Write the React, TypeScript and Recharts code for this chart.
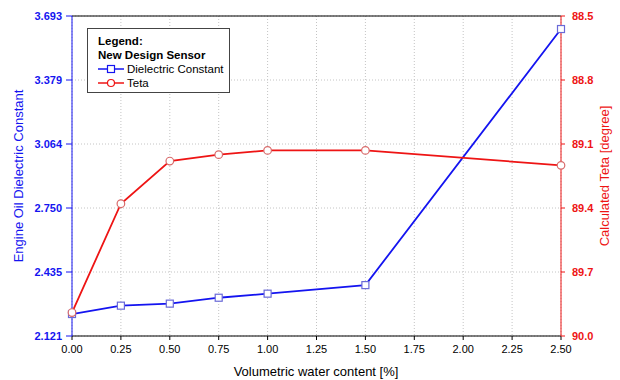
import { CartesianGrid, Legend, Line, LineChart, ReferenceLine, XAxis, YAxis } from "recharts";

const waterContent = [0, 0.25, 0.5, 0.75, 1.0, 1.5, 2.5];
const dielectric = [2.229, 2.27, 2.28, 2.309, 2.329, 2.371, 3.629];
const teta = [89.89, 89.38, 89.18, 89.15, 89.13, 89.13, 89.2];

const xTicks = [0, 0.25, 0.5, 0.75, 1.0, 1.25, 1.5, 1.75, 2.0, 2.25, 2.5];
const leftTicks = [2.121, 2.4354, 2.7498, 3.0642, 3.3786, 3.693];
const rightTicks = [88.5, 88.8, 89.1, 89.4, 89.7, 90.0];

const BLUE = "#1414f0";
const RED = "#ee1414";
const FONT = "'Liberation Sans', Arial, sans-serif";

const data = waterContent.map((x, i) => ({ x, dielectric: dielectric[i], teta: teta[i] }));

const Square = (props: any) => {
  const { cx, cy } = props;
  if (cx == null || cy == null) return null;
  return <rect x={cx - 3.5} y={cy - 3.5} width={7} height={7} fill="#fff" stroke="#6a6ad8" strokeWidth={1.2} />;
};

const Circle = (props: any) => {
  const { cx, cy } = props;
  if (cx == null || cy == null) return null;
  return <circle cx={cx} cy={cy} r={3.8} fill="#fff" stroke="#d86a6a" strokeWidth={1.2} />;
};

function LegendBox() {
  const row = { display: "flex", alignItems: "center", height: 14 } as const;
  return (
    <div style={{ border: "1px solid #444", background: "#fff", padding: "5px 5px 2px 10px", fontFamily: FONT, fontSize: 11.5, color: "#000", lineHeight: "14px", whiteSpace: "nowrap" }}>
      <div style={{ fontWeight: "bold" }}>Legend:</div>
      <div style={{ fontWeight: "bold" }}>New Design Sensor</div>
      <div style={row}>
        <svg width={26} height={10} style={{ marginRight: 3 }}>
          <line x1={0} y1={5} x2={26} y2={5} stroke={BLUE} strokeWidth={1.5} />
          <rect x={9.5} y={1.5} width={7} height={7} fill="#fff" stroke={BLUE} strokeWidth={1.2} />
        </svg>
        Dielectric Constant
      </div>
      <div style={row}>
        <svg width={26} height={10} style={{ marginRight: 3 }}>
          <line x1={0} y1={5} x2={26} y2={5} stroke={RED} strokeWidth={1.5} />
          <circle cx={13} cy={5} r={3.5} fill="#fff" stroke={RED} strokeWidth={1.2} />
        </svg>
        Teta
      </div>
    </div>
  );
}

const title = (value: string, x: number, y: number, angle: number, fill: string) => () => (
  <text x={x} y={y} transform={`rotate(${angle}, ${x}, ${y})`} textAnchor="middle" dominantBaseline="central" fill={fill} fontSize={13} fontFamily={FONT}>
    {value}
  </text>
);

export default function App() {
  return (
    <div style={{ position: "absolute", left: 0, top: 0, background: "#fff" }}>
      <LineChart width={620} height={380} data={data} margin={{ top: 16, right: 10, bottom: 10, left: 10 }} style={{ fontFamily: FONT }}>
        <CartesianGrid yAxisId="left" stroke="#c4c4c4" strokeDasharray="1 2" />
        <XAxis
          dataKey="x"
          type="number"
          domain={[0, 2.5]}
          ticks={xTicks}
          tickFormatter={(v) => Number(v).toFixed(2)}
          height={34}
          tickSize={4}
          tickMargin={5}
          stroke="#000"
          tick={{ fill: "#000", fontSize: 11 }}
          label={{ content: title("Volumetric water content [%]", 316, 371, 0, "#000") }}
        />
        <YAxis
          yAxisId="left"
          domain={[2.121, 3.693]}
          ticks={leftTicks}
          tickFormatter={(v) => Number(v).toFixed(3)}
          width={62}
          tickSize={6}
          tickMargin={4}
          stroke={BLUE}
          tick={{ fill: BLUE, fontSize: 11, fontWeight: "bold" }}
          label={{ content: title("Engine Oil Dielectric Constant", 18, 176, -90, BLUE) }}
        />
        <YAxis
          yAxisId="right"
          orientation="right"
          reversed
          domain={[88.5, 90.0]}
          ticks={rightTicks}
          tickFormatter={(v) => Number(v).toFixed(1)}
          width={49}
          tickSize={4}
          tickMargin={7}
          stroke={RED}
          tick={{ fill: RED, fontSize: 11, fontWeight: "bold" }}
          label={{ content: title("Calculated Teta [degree]", 604, 176, -90, RED) }}
        />
        <ReferenceLine yAxisId="left" y={3.693} stroke="#000" strokeWidth={1} />
        <Line yAxisId="left" dataKey="dielectric" stroke={BLUE} strokeWidth={1.8} dot={<Square />} isAnimationActive={false} />
        <Line yAxisId="right" dataKey="teta" stroke={RED} strokeWidth={1.8} dot={<Circle />} isAnimationActive={false} />
        <Legend layout="vertical" align="center" verticalAlign="middle" content={() => <LegendBox />} wrapperStyle={{ left: 87, top: 28, width: "auto", height: "auto" }} />
      </LineChart>
    </div>
  );
}
